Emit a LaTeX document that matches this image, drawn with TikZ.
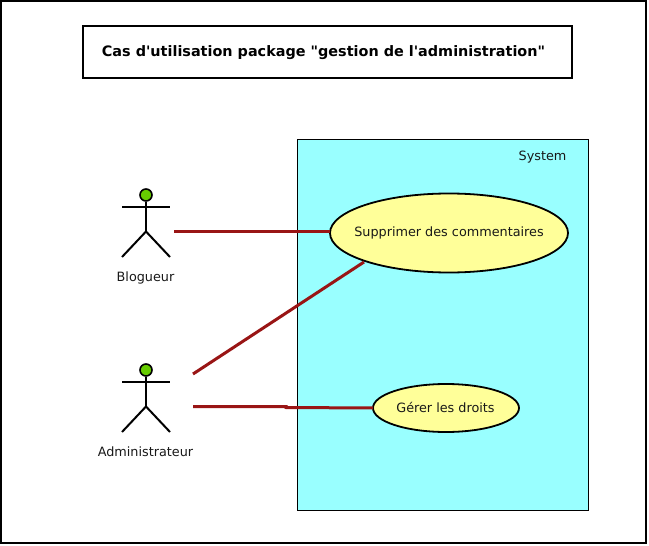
\documentclass[tikz,border=0pt]{standalone}
\usepackage{fontspec}
\setmainfont{DejaVu Sans}
\newfontfamily\plainfont{DejaVu Sans}
\usetikzlibrary{shapes.geometric}
\definecolor{sysfill}{HTML}{99FFFF}
\definecolor{usefill}{HTML}{FFFF99}
\definecolor{linkred}{HTML}{991515}
\definecolor{headgreen}{HTML}{66CC00}
\tikzset{
  x=1pt,y=-1pt,
  frame/.style={draw=black,line width=2pt,fill=white,outer sep=0pt},
  systembox/.style={draw=black,line width=1.1pt,fill=sysfill,outer sep=0pt},
  usecase/.style={draw=black,line width=1.8pt,fill=usefill,ellipse,inner sep=0pt,outer sep=0pt},
  label text/.style={font=\fontsize{12.8}{15}\selectfont,text=black!90,inner sep=0pt},
  limb/.style={draw=black,line width=2pt,line cap=butt},
  head/.style={circle,draw=black,line width=1.6pt,fill=headgreen,minimum size=12pt,inner sep=0pt},
  link/.style={draw=linkred,line width=3pt}
}
\newcommand{\stickman}[3]{%
  \node[head] (#3head) at (#1,#2) {};
  \coordinate (#3hip) at (#1,#2+36.5);
  \coordinate (#3al) at (#1-24,#2+12);
  \coordinate (#3ar) at (#1+24,#2+12);
  \coordinate (#3ll) at (#1-24,#2+62);
  \coordinate (#3lr) at (#1+24,#2+62);
  \draw[limb] (#3head) -- (#3hip);
  \draw[limb] (#3al) -- (#3ar);
  \draw[limb] (#3ll) -- (#3hip) -- (#3lr);
}
\begin{document}
\begin{tikzpicture}
\useasboundingbox (0,0) rectangle (649,546);
\fill[white] (0,0) rectangle (649,546);
\node[frame,inner sep=0pt,minimum width=645pt,minimum height=542pt,anchor=north west] (outer) at (1,1) {};
\node[frame,inner sep=0pt,minimum width=489pt,minimum height=52pt,anchor=north west] (title) at (83,25.5) {};
\node[font=\plainfont\fontsize{14.4}{17}\selectfont\bfseries,text=black,inner sep=0pt] (titletext) at (323.5,53) {Cas d'utilisation package "gestion de l'administration"};
\node[systembox,inner sep=0pt,minimum width=291pt,minimum height=371pt,anchor=north west] (system) at (297.5,139.5) {};
\node[label text] (systemlabel) at (542.5,157) {System};
\node[usecase,minimum width=238pt,minimum height=79pt] (uc1) at (449,233) {};
\node[label text] (uc1text) at (449,233) {Supprimer des commentaires};
\node[usecase,minimum width=146pt,minimum height=48pt] (uc2) at (446,408) {};
\node[label text] (uc2text) at (445.5,407) {Gérer les droits};
\stickman{146}{195}{a}
\stickman{146}{370}{b}
\node[label text] (alabel) at (145.5,278) {Blogueur};
\node[label text] (blabel) at (145.5,452) {Administrateur};
\coordinate (aout) at (174,231);
\coordinate (bouta) at (193,374);
\coordinate (boutb) at (193,406.5);
\coordinate (bmida) at (286,406.5);
\coordinate (bmidb) at (286,407.5);
\coordinate (uc1end) at (364,262);
\draw[link] (aout) -- (uc1.west |- aout);
\draw[link] (bouta) -- (uc1end);
\draw[link] (boutb) -- (bmida) -- (bmidb) -- (uc2.west);
\end{tikzpicture}
\end{document}
